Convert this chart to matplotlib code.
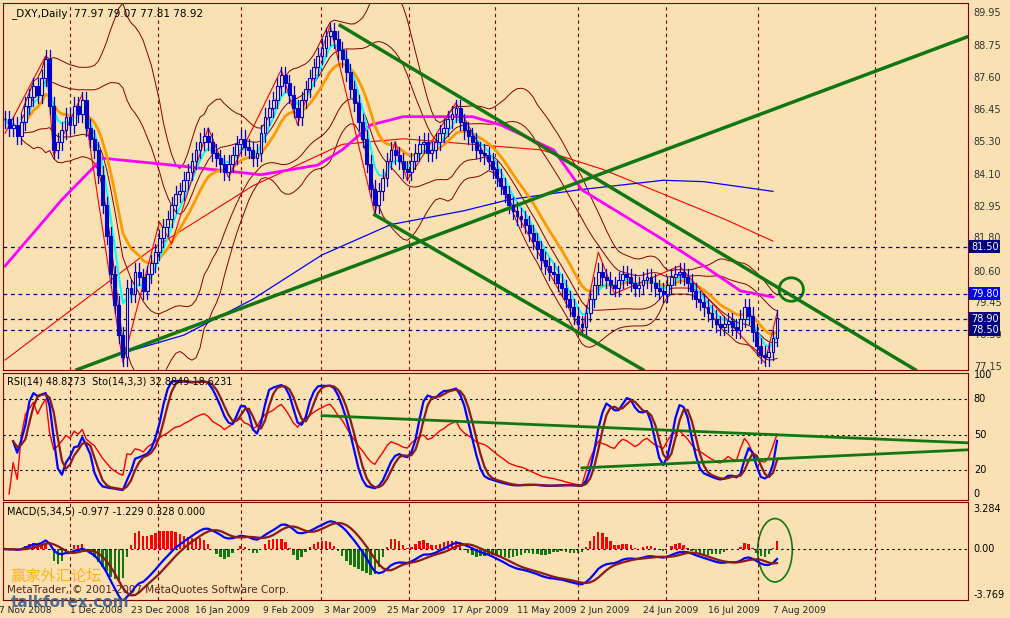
import matplotlib
matplotlib.use("Agg")
import matplotlib.pyplot as plt
from matplotlib.patches import Rectangle, Ellipse
import numpy as np
import pandas as pd

# daily closes, _DXY, 7 Nov 2008 .. 7 Aug 2009
closes = [
    86.1, 85.8, 85.9, 85.5, 86.0, 86.6, 86.9, 87.3, 87.0, 87.6,
    88.3, 86.6, 85.0, 85.3, 85.7, 86.2, 85.9, 86.6, 86.3, 86.8,
    85.8, 85.4, 85.0, 84.1, 83.0, 81.9, 80.5, 79.4, 78.3, 77.5,
    80.0, 79.8, 80.6, 80.4, 79.9, 80.5, 80.9, 81.3, 81.8, 82.2,
    82.5, 83.0, 83.4, 83.5, 83.9, 84.2, 84.6, 85.0, 85.3, 85.5,
    85.3, 84.9, 84.7, 84.5, 84.2, 84.5, 84.8, 85.2, 85.4, 85.1,
    85.0, 84.7, 84.9, 85.6, 86.2, 86.5, 86.8, 87.3, 87.7, 87.4,
    87.0, 86.5, 86.2, 86.8, 87.2, 87.6, 88.0, 88.4, 88.7, 89.1,
    89.3, 89.0, 88.6, 88.3, 87.8, 87.2, 86.7, 86.0, 85.4, 84.5,
    83.6, 83.0, 83.5, 84.0, 84.6, 85.0, 84.8, 84.6, 84.3, 84.2,
    84.6, 84.9, 85.2, 85.3, 84.9, 85.0, 85.3, 85.6, 85.8, 86.1,
    86.3, 86.5, 86.0, 85.7, 85.5, 85.3, 85.0, 84.9, 84.8, 84.6,
    84.3, 84.0, 83.7, 83.4, 83.0, 82.8, 82.6, 82.5, 82.3, 82.0,
    81.7, 81.4, 81.0, 80.8, 80.6, 80.5, 80.2, 80.0, 79.6, 79.3,
    79.0, 78.7, 78.6, 79.1, 79.6, 80.1, 80.6, 80.4, 80.3, 80.1,
    80.0, 80.3, 80.5, 80.4, 80.2, 80.0, 80.1, 80.3, 80.4, 80.2,
    80.0, 79.9, 79.8, 80.1, 80.4, 80.5, 80.6, 80.4, 80.2, 79.9,
    79.6, 79.5, 79.3, 79.1, 78.9, 78.7, 78.6, 78.7, 78.8, 78.6,
    78.5, 78.9, 79.3, 79.0, 78.4, 77.9, 77.6, 77.5, 77.7, 78.2, 78.92,
]

# long moving averages that need history before the window (bar index, value)
ma_blue_idx = [30, 44, 61, 78, 95, 113, 124, 141, 162, 172, 189]
ma_blue_val = [77.7, 78.3, 79.6, 81.2, 82.3, 82.8, 83.2, 83.55, 83.9, 83.85, 83.5]
ma_magenta_idx = [0, 14, 24, 41, 63, 77, 83, 90, 98, 115, 122, 135, 142, 152, 162, 172, 181, 189]
ma_magenta_val = [80.8, 83.2, 84.7, 84.45, 84.1, 84.45, 85.0, 85.9, 86.2, 86.2, 85.9,
                  85.0, 83.55, 82.65, 81.75, 80.8, 79.9, 79.68]
ma_red_idx = [0, 36, 61, 83, 98, 115, 132, 147, 162, 177, 189]
ma_red_val = [77.4, 81.4, 83.7, 85.2, 85.4, 85.2, 85.0, 84.3, 83.4, 82.5, 81.7]

zigzag_idx = [0, 10, 12, 19, 29, 38, 41, 50, 55, 68, 72, 80, 91, 96, 99, 111, 142, 146, 150, 166, 187, 190]
zigzag_val = [85.6, 88.4, 84.8, 87.0, 77.3, 82.4, 81.6, 85.8, 84.0, 87.9, 85.9, 89.5, 82.7,
              85.3, 83.9, 86.7, 78.4, 81.3, 79.8, 80.8, 77.3, 79.1]

levels = [81.50, 79.80, 78.90, 78.50]
level_colors = ["#000080", "#0000ff", "#000080", "#000080"]
price_ticks = [89.95, 88.75, 87.60, 86.45, 85.30, 84.10, 82.95, 81.80, 80.60, 79.45, 78.30, 77.15]

date_labels = ["7 Nov 2008", "1 Dec 2008", "23 Dec 2008", "16 Jan 2009", "9 Feb 2009", "3 Mar 2009",
               "25 Mar 2009", "17 Apr 2009", "11 May 2009", "2 Jun 2009", "24 Jun 2009",
               "16 Jul 2009", "7 Aug 2009"]
date_pos = [-1.5, 16, 31, 46.8, 63.5, 78.6, 94, 110, 125.9, 141.6, 157, 173, 189]
vgrid = [16, 37.7, 58.1, 77.8, 99.5, 120.5, 140.9, 162.6, 185.2, 214]

# trendlines (bar index, value)
up_line = [(17.7, 77.05), (248, 89.7)]
chan_top = [(82.5, 89.5), (224, 77.05)]
chan_bot = [(91, 82.65), (157, 77.05)]
rsi_line1 = [(78, 66), (248, 41.5)]
rsi_line2 = [(142, 22), (248, 39)]

BG = "#fae1b4"
FR = "#800000"

c = pd.Series(closes)
o = c.shift(1).fillna(c.iloc[0])
hi = np.maximum(o, c) + 0.3
lo = np.minimum(o, c) - 0.3
x = np.arange(len(c))

W, H = 1010, 618
fig = plt.figure(figsize=(W / 100, H / 100), dpi=100, facecolor=BG)


def pane(top, bot):
    ax = fig.add_axes([3 / W, 1 - bot / H, 965 / W, (bot - top) / H], facecolor=BG)
    for s in ax.spines.values():
        s.set_color(FR)
    ax.set_xlim(-0.5, 237)
    ax.set_xticks([])
    ax.set_yticks([])
    for g in vgrid:
        ax.axvline(g, color=FR, ls=(0, (3, 3)), lw=0.8)
    return ax


ax = pane(3, 370)
ax.set_ylim(77.04, 90.31)
for lv in levels:
    ax.axhline(lv, color="#000080", ls=(0, (3, 3)), lw=0.9)

mid = c.rolling(20, min_periods=5).mean()
sd = c.rolling(20, min_periods=5).std()
for k in (1.0, 2.0):
    ax.plot(x, mid + k * sd, color=FR, lw=0.7)
    ax.plot(x, mid - k * sd, color=FR, lw=0.7)
ax.plot(ma_red_idx, ma_red_val, color="red", lw=0.8)
ax.plot(ma_blue_idx, ma_blue_val, color="blue", lw=0.9)
ax.plot(ma_magenta_idx, ma_magenta_val, color="#ff00ff", lw=2)
ax.plot(x, c.ewm(span=13).mean(), color="#ff9900", lw=2)
ax.plot(x, c.ewm(span=5).mean(), color="cyan", lw=1.5)
ax.plot(zigzag_idx, zigzag_val, color="red", lw=0.8)

for xi, oo, cc, hh, ll in zip(x, o, c, hi, lo):
    ax.plot([xi, xi], [ll, hh], color="#0000cc", lw=0.9)
    fc = "#0000cc" if cc < oo else BG
    ax.add_patch(Rectangle((xi - 0.35, min(oo, cc)), 0.7, max(abs(cc - oo), 0.03),
                           fc=fc, ec="#0000cc", lw=0.8, zorder=3))

for ln in (up_line, chan_top, chan_bot):
    ax.plot([p[0] for p in ln], [p[1] for p in ln], color="#117711", lw=2.5)
ax.add_patch(Ellipse((193.5, 79.95), 6, 0.85, fill=False, ec="#117711", lw=2))
ax.text(0.008, 0.985, "_DXY,Daily  77.97 79.07 77.81 78.92", transform=ax.transAxes,
        va="top", fontsize=7.5)
for t in price_ticks:
    ax.text(1.006, t, f"{t:.2f}", transform=ax.get_yaxis_transform(), va="center",
            fontsize=7, color="#333333")
for lv, lc in zip(levels, level_colors):
    ax.text(1.003, lv, f"{lv:.2f}", transform=ax.get_yaxis_transform(), va="center",
            fontsize=7, color="white", bbox=dict(fc=lc, ec="none", pad=1.2), zorder=5)

# RSI / Stochastic
ax2 = pane(373, 500)
ax2.set_ylim(-5.05, 101.9)
for lv in (20, 50, 80):
    ax2.axhline(lv, color="black", ls=(0, (2, 3)), lw=0.8)
d = c.diff()
up = d.clip(lower=0).ewm(alpha=1 / 14).mean()
dn = (-d.clip(upper=0)).ewm(alpha=1 / 14).mean()
rsi = 100 - 100 / (1 + up / dn)
hh14 = pd.Series(hi).rolling(14, min_periods=3).max()
ll14 = pd.Series(lo).rolling(14, min_periods=3).min()
k_raw = 100 * (c - ll14) / (hh14 - ll14)
k_line = k_raw.rolling(3, min_periods=1).mean()
d_line = k_line.rolling(3, min_periods=1).mean()
ax2.plot(x, rsi, color="red", lw=1)
ax2.plot(x, k_line, color="blue", lw=1.6)
ax2.plot(x, d_line, color="#8b1a1a", lw=1.6)
for ln in (rsi_line1, rsi_line2):
    ax2.plot([p[0] for p in ln], [p[1] for p in ln], color="#117711", lw=2)
ax2.text(0.004, 0.97, "RSI(14) 48.8273  Sto(14,3,3) 32.8849 18.6231", transform=ax2.transAxes,
         va="top", fontsize=7)
for t in (100, 80, 50, 20, 0):
    ax2.text(1.006, t, str(t), transform=ax2.get_yaxis_transform(), va="center", fontsize=7)

# MACD
ax3 = pane(502, 600)
ax3.set_ylim(-4.18, 3.86)
ax3.axhline(0, color="black", ls=(0, (2, 3)), lw=0.8)
macd = c.ewm(span=5).mean() - c.ewm(span=34).mean()
sig = macd.rolling(5, min_periods=1).mean()
hist = (macd - sig) * 2
ax3.bar(x, hist, width=0.6, color=np.where(hist >= 0, "red", "#117711"))
ax3.plot(x, macd, color="blue", lw=1.6)
ax3.plot(x, sig, color="#8b1a1a", lw=1.6)
ax3.add_patch(Ellipse((189.5, -0.1), 8.5, 5.2, fill=False, ec="#117711", lw=1.2))
ax3.text(0.004, 0.95, "MACD(5,34,5) -0.977 -1.229 0.328 0.000", transform=ax3.transAxes,
         va="top", fontsize=7)
for t, s in ((3.284, "3.284"), (0, "0.00"), (-3.769, "-3.769")):
    ax3.text(1.006, t, s, transform=ax3.get_yaxis_transform(), va="center", fontsize=7)
ax3.text(0.004, 0.07, "MetaTrader, © 2001-2007 MetaQuotes Software Corp.", transform=ax3.transAxes,
         fontsize=7.5, color="#552222")
ax3.text(0.008, 0.2, "赢家外汇论坛", transform=ax3.transAxes, fontsize=11, color="#ffaa00",
         fontfamily=["Noto Sans CJK SC", "Noto Sans CJK JP"], alpha=0.85)
ax3.text(0.008, -0.07, "talkforex.com", transform=ax3.transAxes, fontsize=11, color="#3b5e8c",
         weight="bold", alpha=0.9)
for p, lab in zip(date_pos, date_labels):
    ax3.text(p, -0.06, lab, transform=ax3.get_xaxis_transform(), va="top", fontsize=6.6,
             color="#222222")

fig.savefig("out.png", dpi=100, facecolor=BG)
